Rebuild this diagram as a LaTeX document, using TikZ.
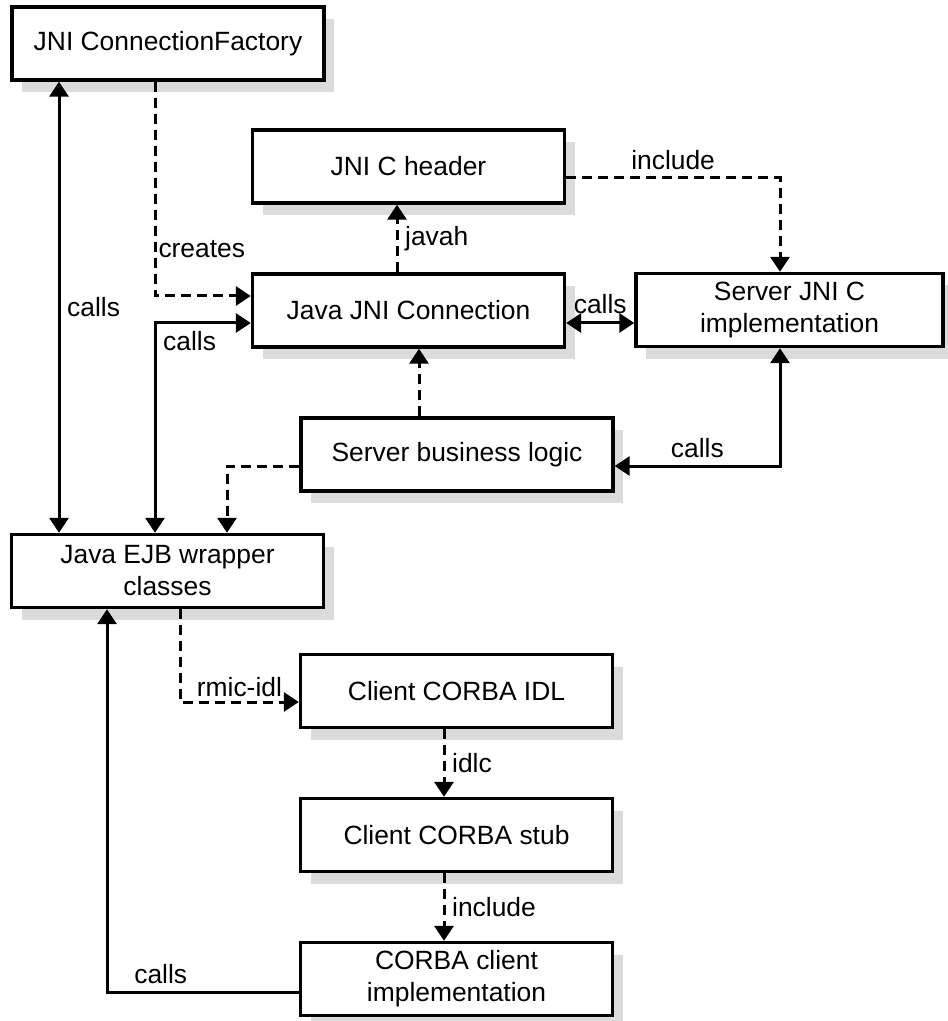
\documentclass[tikz,border=0pt]{standalone}
\usepackage{fontspec}
\setmainfont{Liberation Sans}
\usetikzlibrary{arrows.meta,shadows}

\begin{document}
\begin{tikzpicture}[x=0.5pt,y=-0.5pt]
	\tikzset{every node/.style={font=\fontsize{13.2}{16}\selectfont}}
	\tikzset{box/.style={draw,line width=1.7pt,fill=white,minimum width=156pt,minimum height=36.5pt,inner sep=0pt,align=center,
		drop shadow={shadow xshift=5pt,shadow yshift=-6pt,fill=black!14,opacity=1}}}
	\tikzset{conn/.style={line width=1.5pt,>={Triangle[length=7.5pt,width=9.5pt]}}}
	\tikzset{gen/.style={conn,dash pattern=on 5pt off 3pt}}
	%\tikzset{lbl/.style={inner sep=2pt}}
	\useasboundingbox (0,0) rectangle (947,1021);

	\node[box] (factory) at (168,43.5) {JNI ConnectionFactory};
	\node[box] (header) at (408.5,166.5) {JNI C header};
	\node[box] (jconn) at (408.5,310.5) {Java JNI Connection};
	\node[box,minimum width=153.5pt] (srvimpl) at (789.5,310) {Server JNI C\\implementation};
	\node[box] (logic) at (457,454.5) {Server business logic};
	\node[box] (ejb) at (167.5,571) {Java EJB wrapper\\classes};
	\node[box] (idl) at (456.5,691) {Client CORBA IDL};
	\node[box] (stub) at (456.5,835) {Client CORBA stub};
	\node[box] (cliimpl) at (456.5,979) {CORBA client\\implementation};

	% calls
	\draw[conn,<->] (factory.south -| 59,0) -- node[right] {calls} (ejb.north -| 59,0);
	\draw[conn,<->] (ejb.north -| 155,0) |- node[pos=0.5,anchor=north west] {calls} (jconn.west |- 0,323);
	\draw[conn,<->] (jconn.east |- 0,323) -- node[above,inner sep=4pt] {calls} (srvimpl.west |- 0,323);
	\draw[conn,<->] (srvimpl.south -| 780,0) |- node[pos=0.75,above] {calls} (logic.east |- 0,466);
	\draw[conn,->] (cliimpl.west |- 0,992) -| node[pos=0.36,above] {calls} (ejb.south -| 107,0);

	% generated / included
	\draw[gen,->] (factory.south -| 155,0) |- node[pos=0.39,right,inner sep=1pt] {creates} (jconn.west |- 0,296);
	\draw[gen,->] (jconn.north -| 397,0) -- node[right] {javah} (header.south -| 397,0);
	\draw[gen,->] (header.east |- 0,178) -| node[pos=0.25,above] {include} (srvimpl.north -| 780,0);
	\draw[gen,->] (logic.north -| 419,0) -- (jconn.south -| 419,0);
	\draw[gen,->] (logic.west |- 0,466) -| (ejb.north -| 227,0);
	\draw[gen,->] (ejb.south -| 180,0) |- node[pos=0.75,above,inner sep=2pt] {rmic-idl} (idl.west |- 0,702);
	\draw[gen,->] (idl.south -| 444,0) -- node[right] {idlc} (stub.north -| 444,0);
	\draw[gen,->] (stub.south -| 444,0) -- node[right] {include} (cliimpl.north -| 444,0);
\end{tikzpicture}
\end{document}
